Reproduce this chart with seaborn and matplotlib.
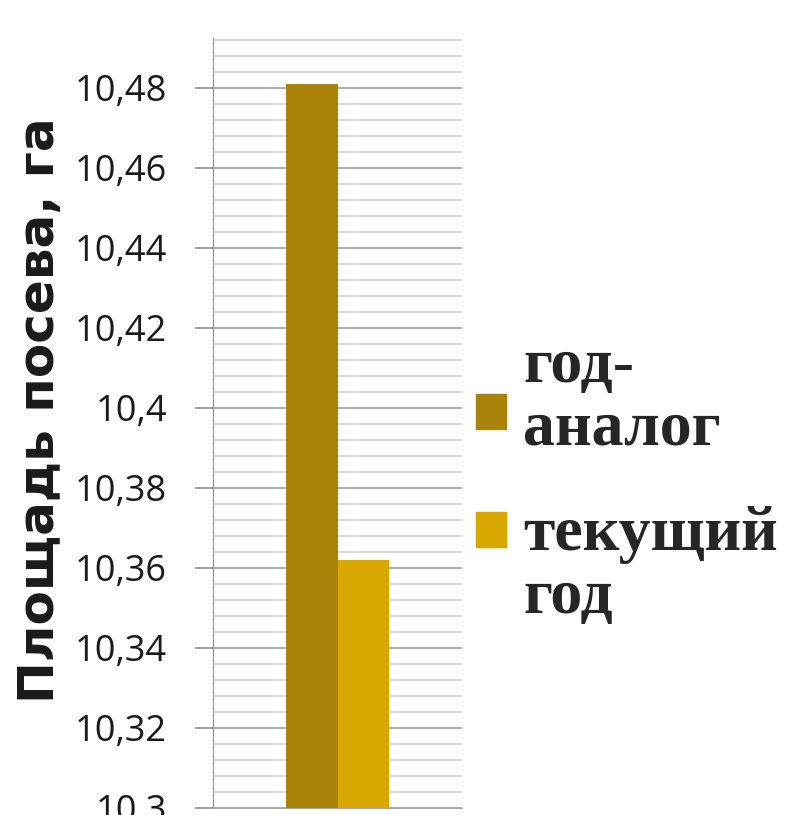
import numpy as np
import pandas as pd
import matplotlib
matplotlib.use("Agg")
import matplotlib.pyplot as plt
from matplotlib.ticker import FixedLocator, MultipleLocator
from matplotlib.legend_handler import HandlerPatch
from matplotlib.patches import Rectangle
import seaborn as sns

# data
categories = ["", ""]
series = ["год-\nаналог", "текущий\nгод"]
values = [10.481, 10.362]
colors = ["#A9830A", "#D9A800"]
tick_values = [10.30, 10.32, 10.34, 10.36, 10.38, 10.40, 10.42, 10.44, 10.46, 10.48]
tick_labels = ["10,3", "10,32", "10,34", "10,36", "10,38", "10,4", "10,42", "10,44", "10,46", "10,48"]

df = pd.DataFrame({"cat": categories, "series": series, "value": values})

sns.set_style("white")
plt.rcParams["font.family"] = ["Open Sans", "DejaVu Sans"]

fig = plt.figure(figsize=(8, 8.15), dpi=100)
ax = fig.add_axes([213 / 800, 1 - 808 / 815, 249 / 800, (808 - 38) / 815])

sns.barplot(data=df, x="cat", y="value", hue="series", palette=colors,
            width=0.41, saturation=1, linewidth=0, edgecolor="none",
            ax=ax, legend=False, zorder=3)

ax.set_ylim(10.3, 10.4925)
ax.set_xlim(-0.5, 0.5)
ax.yaxis.set_major_locator(FixedLocator(tick_values))
ax.set_yticklabels(tick_labels, fontsize=26, color="#1a1a1a")
ax.yaxis.set_minor_locator(MultipleLocator(0.004))
ax.grid(which="major", axis="y", color="#a8a8a8", linewidth=1.3, zorder=0)
ax.grid(which="minor", axis="y", color="#cfcfcf", linewidth=1.1, zorder=0)
ax.set_axisbelow(True)
ax.tick_params(axis="y", which="major", left=True, length=13, width=1.2,
               color="#909090", pad=20)
ax.tick_params(axis="y", which="minor", left=False)
ax.set_xticks([])
ax.set_xlabel("")
for s in ["top", "right"]:
    ax.spines[s].set_visible(False)
ax.spines["left"].set_color("#909090")
ax.spines["bottom"].set_color("#a8a8a8")

ax.set_ylabel("Площадь посева, га", fontsize=36, fontweight="bold",
              family=["DejaVu Sans"], color="#1a1a1a")
ax.yaxis.set_label_coords((64 - 213) / 249, (808 - 410) / 770)


class ShiftedBox(HandlerPatch):
    # excel puts the swatches a little off the text centre
    def __init__(self, dy):
        super().__init__()
        self.dy = dy

    def create_artists(self, legend, orig_handle, xdescent, ydescent,
                       width, height, fontsize, trans):
        p = Rectangle((-xdescent, -ydescent + self.dy), width, height)
        self.update_prop(p, orig_handle, legend)
        p.set_transform(trans)
        return [p]


handles = [Rectangle((0, 0), 1, 1, color=c) for c in colors]
leg = fig.legend(handles, series, loc="upper left",
                 bbox_to_anchor=(476 / 800, 1 - 338 / 815),
                 frameon=False, borderpad=0, borderaxespad=0,
                 handlelength=0.47, handleheight=0.47,
                 handletextpad=0.27, labelspacing=0.75,
                 handler_map={handles[0]: ShiftedBox(-10),
                              handles[1]: ShiftedBox(26)},
                 prop={"family": ["Liberation Serif", "DejaVu Serif"],
                       "weight": "bold", "size": 46})
for t in leg.get_texts():
    t.set_linespacing(1.1)

fig.savefig("out.png", dpi=100)
